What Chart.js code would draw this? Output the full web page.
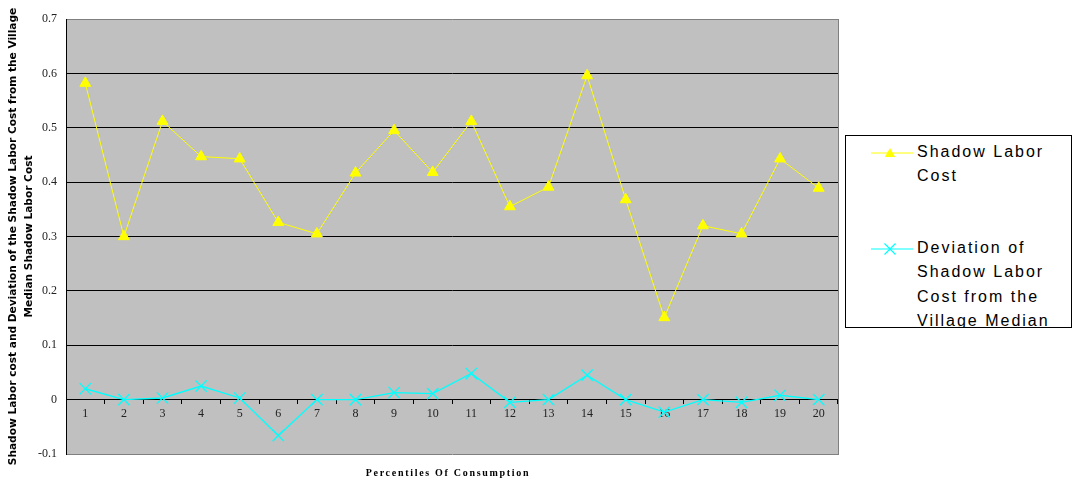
<!DOCTYPE html>
<html>
<head>
<meta charset="utf-8">
<script src="https://cdn.jsdelivr.net/npm/chart.js@4/dist/chart.umd.min.js"></script>
<style>
  html, body { margin: 0; padding: 0; background: #fff; }
  #wrap { position: relative; width: 1073px; height: 482px; }
  #chart { position: absolute; left: 0; top: 0; }
  #xtitle {
    position: absolute; left: 298px; width: 300px; top: 467px;
    text-align: center; font: bold 10px "Liberation Serif", "Times New Roman", serif;
    letter-spacing: 1.7px; color: #000;
  }
  #legend {
    position: absolute; left: 845px; top: 135px; width: 227px; height: 193px;
    border: 1px solid #000; box-sizing: border-box; overflow: hidden; background: #fff;
  }
  .item { position: absolute; left: 0; width: 225px; }
  .item svg { position: absolute; left: 25px; }
  .item .txt {
    position: absolute; left: 71px; width: 145px;
    font: 16px "Liberation Sans", Arial, sans-serif; letter-spacing: 2px;
    line-height: 24.3px; color: #000;
  }
</style>
</head>
<body>
<div id="wrap">
  <canvas id="chart" width="1073" height="482"></canvas>
  <div id="xtitle"></div>
  <div id="legend"></div>
</div>
<script>
// Percentile groups along the x axis
const percentiles = ['1','2','3','4','5','6','7','8','9','10','11','12','13','14','15','16','17','18','19','20'];

// Shadow labor cost per percentile of consumption
const shadowLaborCost = [0.582, 0.300, 0.512, 0.447, 0.443, 0.326, 0.305, 0.417, 0.495, 0.418,
                         0.512, 0.355, 0.391, 0.596, 0.368, 0.151, 0.320, 0.305, 0.443, 0.389];

// Deviation of the shadow labor cost from the village median
const deviationFromMedian = [0.020, 0.000, 0.003, 0.025, 0.003, -0.066, 0.000, 0.000, 0.013, 0.011,
                             0.048, -0.005, 0.000, 0.045, 0.000, -0.023, 0.000, -0.005, 0.008, 0.000];

const seriesNames = ['Shadow Labor Cost', 'Deviation of Shadow Labor Cost from the Village Median'];
const yAxisTitle = ['Shadow Labor cost and Deviation of the Shadow Labor Cost from the Village',
                    'Median Shadow Labor Cost'];
const xAxisTitle = 'Percentiles Of Consumption';

const Y_MIN = -0.1, Y_MAX = 0.7, Y_STEP = 0.1;
const GRAY_EDGE = '#808080';

// Gray plot background plus the gray right-hand frame line
const plotFrame = {
  id: 'plotFrame',
  beforeDraw(chart) {
    const { ctx, chartArea: a } = chart;
    ctx.save();
    ctx.fillStyle = '#C0C0C0';
    ctx.fillRect(a.left, a.top, a.right - a.left, a.bottom - a.top);
    ctx.restore();
  },
  afterDatasetsDraw(chart) {
    const { ctx, chartArea: a } = chart;
    ctx.save();
    ctx.strokeStyle = GRAY_EDGE;
    ctx.lineWidth = 1;
    ctx.beginPath();
    ctx.moveTo(a.right + 0.5, a.top);
    ctx.lineTo(a.right + 0.5, a.bottom + 1);
    ctx.stroke();
    ctx.restore();
  }
};

const chart = new Chart(document.getElementById('chart'), {
  type: 'line',
  data: {
    labels: percentiles,
    datasets: [
      {
        label: seriesNames[0],
        data: shadowLaborCost,
        borderColor: '#FFFF00',
        backgroundColor: '#FFFF00',
        borderWidth: 1,
        pointStyle: 'triangle',
        pointRadius: 6.3,
        pointBorderWidth: 1,
        pointHoverRadius: 6.3,
        tension: 0
      },
      {
        label: seriesNames[1],
        data: deviationFromMedian,
        borderColor: '#00FFFF',
        backgroundColor: '#00FFFF',
        borderWidth: 1.3,
        pointStyle: 'crossRot',
        pointRadius: 8,
        pointBorderWidth: 1.3,
        pointHoverRadius: 8,
        tension: 0
      }
    ]
  },
  options: {
    responsive: false,
    animation: false,
    events: [],
    layout: { padding: { top: 19, right: 235, bottom: 28, left: 0 } },
    plugins: { legend: { display: false }, tooltip: { enabled: false } },
    scales: {
      x: {
        position: { y: 0 },
        offset: true,
        grid: {
          offset: true,
          drawOnChartArea: false,
          drawTicks: true,
          tickLength: 4,
          tickColor: '#000'
        },
        border: { display: true, color: '#000', width: 1 },
        ticks: {
          padding: 3,
          color: '#222',
          font: { family: '"Liberation Serif", "Times New Roman", serif', size: 12 },
          maxRotation: 0,
          autoSkip: false
        }
      },
      y: {
        min: Y_MIN,
        max: Y_MAX,
        afterFit(scale) { scale.width = 66; },
        grid: {
          drawTicks: false,
          lineWidth: 1,
          color(ctx) {
            const v = ctx.tick ? ctx.tick.value : 0;
            return (Math.abs(v - Y_MAX) < 1e-9 || Math.abs(v - Y_MIN) < 1e-9) ? GRAY_EDGE : '#000';
          }
        },
        border: { display: true, color: '#000', width: 1 },
        ticks: {
          stepSize: Y_STEP,
          padding: 9,
          color: '#222',
          font: { family: '"Liberation Serif", "Times New Roman", serif', size: 12 },
          callback(v) { return Math.round(v * 10) / 10; }
        },
        title: {
          display: true,
          text: yAxisTitle,
          color: '#000',
          font: { family: '"DejaVu Sans", sans-serif', size: 10.6, weight: 'bold', lineHeight: 1.45 },
          padding: { top: 6, bottom: 0 }
        }
      }
    }
  },
  plugins: [plotFrame]
});

// Axis title under the plot
document.getElementById('xtitle').textContent = xAxisTitle;

// Legend box with wrapped series names and line+marker swatches
(function buildLegend() {
  const legend = document.getElementById('legend');
  const tops = [4, 100];
  const swatches = [
    '<polygon points="19,2 13.8,11 24.2,11" fill="#FFFF00"/>',
    '<path d="M13.5,1.5 L24.5,12.5 M24.5,1.5 L13.5,12.5" stroke="#00FFFF" stroke-width="1.2"/>'
  ];
  const colors = ['#FFFF00', '#00FFFF'];
  chart.data.datasets.forEach((ds, i) => {
    const item = document.createElement('div');
    item.className = 'item';
    item.style.top = tops[i] + 'px';
    item.innerHTML =
      '<svg width="44" height="14" style="top:6px">' +
      '<line x1="0" y1="7" x2="42" y2="7" stroke="' + colors[i] + '" stroke-width="1"/>' +
      swatches[i] + '</svg>';
    const txt = document.createElement('div');
    txt.className = 'txt';
    txt.textContent = ds.label;
    item.appendChild(txt);
    legend.appendChild(item);
  });
})();
</script>
</body>
</html>
